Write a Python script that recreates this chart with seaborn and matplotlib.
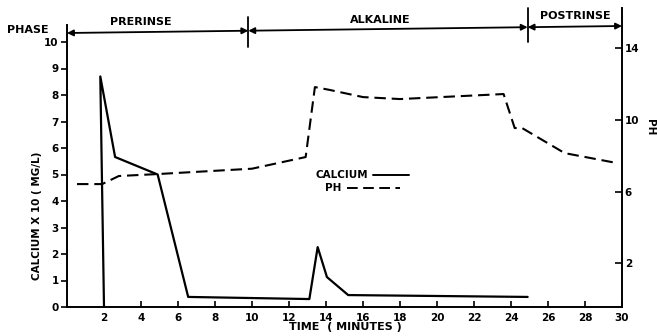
import matplotlib
matplotlib.use("Agg")
import matplotlib.pyplot as plt
from matplotlib.lines import Line2D
from matplotlib.patches import FancyArrowPatch
import seaborn as sns
import pandas as pd

# ---- data ----
calcium_time = [2.0, 1.8, 2.6, 4.9, 6.55, 13.1, 13.55, 14.05, 15.2, 24.9]
calcium_vals = [0.0, 8.7, 5.66, 5.0, 0.38, 0.3, 2.26, 1.13, 0.45, 0.38]
ph_time = [0.54, 1.9, 2.8, 4.9, 10.0, 12.9, 13.4, 14.2, 16.0, 18.0, 23.6, 24.2, 24.6, 26.9, 29.7]
ph_vals = [6.42, 6.42, 6.87, 6.98, 7.28, 7.93, 11.84, 11.68, 11.28, 11.17, 11.45, 9.55, 9.55, 8.15, 7.6]
x_ticks = [2, 4, 6, 8, 10, 12, 14, 16, 18, 20, 22, 24, 26, 28, 30]
left_ticks = [0, 1, 2, 3, 4, 5, 6, 7, 8, 9, 10]
right_ticks = [2, 6, 10, 14]
phase_names = ["PRERINSE", "ALKALINE", "POSTRINSE"]
phase_bounds = [0, 9.8, 24.9, 30]

sns.set_theme(style="white")
plt.rcParams['font.family'] = ['DejaVu Sans']
plt.rcParams['font.weight'] = 'bold'
plt.rcParams['text.color'] = 'black'
plt.rcParams['xtick.color'] = 'black'
plt.rcParams['ytick.color'] = 'black'
plt.rcParams['axes.labelcolor'] = 'black'

W, H = 657, 336
fig = plt.figure(figsize=(W / 100, H / 100), dpi=100)

def fx(px):
    return px / W

def fy(py):
    return 1 - py / H

ax_left, ax_right, ax_bot, ax_top = 67, 622, 307, 8
ax = fig.add_axes([fx(ax_left), fy(ax_bot), fx(ax_right) - fx(ax_left), fy(ax_top) - fy(ax_bot)])
ax2 = ax.twinx()

cal_df = pd.DataFrame({"time": calcium_time, "calcium": calcium_vals})
ph_df = pd.DataFrame({"time": ph_time, "ph": ph_vals})

sns.lineplot(data=cal_df, x="time", y="calcium", ax=ax, sort=False, color="black", lw=1.6)
sns.lineplot(data=ph_df, x="time", y="ph", ax=ax2, sort=False, color="black", lw=1.5,
             dashes=False, linestyle=(0, (5.5, 2.8)))

ax.set_xlim(0, 30)
ax.set_ylim(0, (ax_bot - ax_top) / 26.5)
ax2.set_ylim(-8 / 17.9, (299 - ax_top) / 17.9)

for a in (ax, ax2):
    a.set_xlabel("")
    a.set_ylabel("")
    a.spines['top'].set_visible(False)
    for s in a.spines.values():
        s.set_color("black")
        s.set_linewidth(1.4)
ax.spines['right'].set_visible(False)
ax2.spines['left'].set_visible(False)
ax2.spines['bottom'].set_visible(False)
ax.spines['left'].set_bounds(0, (ax_bot - 25) / 26.5)

ax.set_xticks(x_ticks)
ax.set_xticklabels([str(t) for t in x_ticks], fontsize=7.5, fontweight='bold', color='black')
ax.set_yticks(left_ticks)
ax.set_yticklabels([str(t) for t in left_ticks], fontsize=7.5, fontweight='bold', color='black')
ax2.set_yticks(right_ticks)
ax2.set_yticklabels([str(t) for t in right_ticks], fontsize=7.5, fontweight='bold', color='black')

ax.tick_params(axis='x', direction='in', length=4, width=1.2, pad=4, colors='black', bottom=True)
ax.tick_params(axis='y', direction='out', length=4, width=1.2, pad=2, colors='black', left=True)
ax2.tick_params(axis='y', direction='in', length=5, width=1.2, pad=2, colors='black', right=True)
ax.grid(False)
ax2.grid(False)

# axis labels
fig.text(fx(37), fy(216), "CALCIUM X 10 ( MG/L)", rotation=90, ha='center', va='center',
         fontsize=7.5, fontweight='bold', color='black')
fig.text(fx(650), fy(127), "PH", rotation=-90, ha='center', va='center',
         fontsize=7.5, fontweight='bold', color='black')
fig.text(fx(345), fy(327), "TIME  ( MINUTES )", ha='center', va='center',
         fontsize=8, fontweight='bold', color='black')

# legend
fig.text(fx(368), fy(175), "CALCIUM", ha='right', va='center', fontsize=7.5, fontweight='bold', color='black')
fig.add_artist(Line2D([fx(373), fx(409)], [fy(175), fy(175)], color='black', lw=1.4))
fig.text(fx(341), fy(188), "PH", ha='right', va='center', fontsize=7.5, fontweight='bold', color='black')
fig.add_artist(Line2D([fx(347), fx(400)], [fy(188), fy(188)], color='black', lw=1.4,
                      linestyle=(0, (5.5, 2.8))))

# phase bar
def t2px(t):
    return ax_left + (ax_right - ax_left) * t / 30.0

def phase_y(px):
    return 33 - (px - ax_left) / (ax_right - ax_left) * 7

fig.text(fx(28), fy(30), "PHASE", ha='center', va='center', fontsize=8, fontweight='bold', color='black')
for i, name in enumerate(phase_names):
    x0, x1 = t2px(phase_bounds[i]), t2px(phase_bounds[i + 1])
    fig.add_artist(FancyArrowPatch(
        (fx(x0), fy(phase_y(x0))), (fx(x1), fy(phase_y(x1))),
        transform=fig.transFigure, arrowstyle='<|-|>', mutation_scale=9,
        color='black', lw=1.3, shrinkA=0, shrinkB=0))
label_pos = [(141, 22), (380, 20), (575, 16)]
for name, (px, py) in zip(phase_names, label_pos):
    fig.text(fx(px), fy(py), name, ha='center', va='center', fontsize=8, fontweight='bold', color='black')
# dividers
fig.add_artist(Line2D([fx(248), fx(248)], [fy(17), fy(47)], color='black', lw=1.3))
fig.add_artist(Line2D([fx(528), fx(528)], [fy(8), fy(42)], color='black', lw=1.3))

fig.savefig("out.png", dpi=100)
